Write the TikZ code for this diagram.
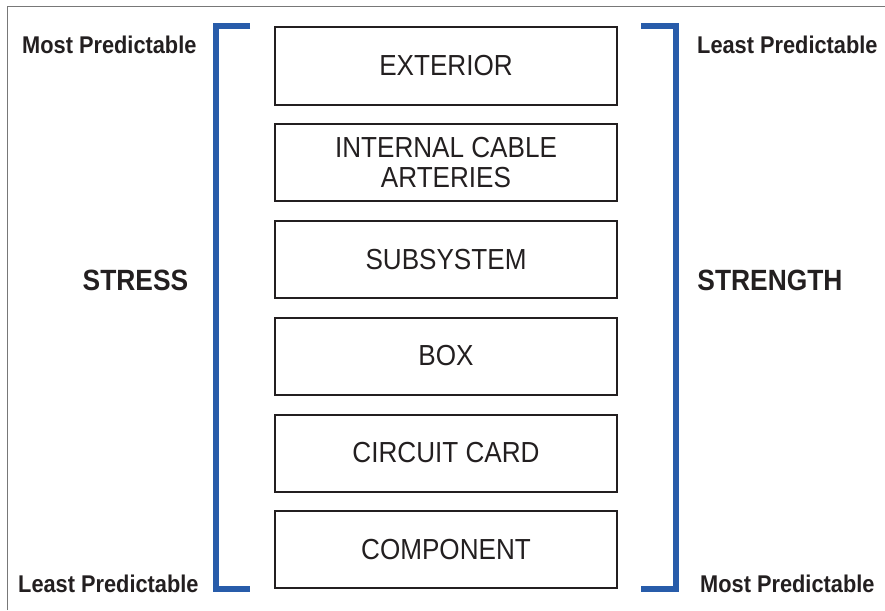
\documentclass[tikz,border=0pt]{standalone}
\usepackage{fontspec}
\setmainfont{Liberation Sans}[FakeStretch=0.9]
\definecolor{bracketblue}{RGB}{40,92,170}
\definecolor{ink}{RGB}{35,31,32}
\definecolor{framegray}{RGB}{120,120,120}
\begin{document}
\begin{tikzpicture}[x=1pt,y=-1pt,
  level/.style={draw=ink,line width=2pt,minimum width=342pt,minimum height=77pt,
    inner sep=0pt,text=ink,align=center,font=\fontsize{29}{29.5}\selectfont},
  side/.style={text=ink,inner sep=0pt,font=\bfseries\fontsize{24.2}{26}\selectfont},
  big/.style={text=ink,inner sep=0pt,font=\bfseries\fontsize{29.3}{30}\selectfont},
  bracket/.style={draw=bracketblue,line width=6pt}]
\useasboundingbox (0,0) rectangle (885,610);
% partial frame (top and left edges)
\draw[framegray,line width=1pt] (7,610) -- (7,7) -- (885,7);

% the six levels
\node[level] (ext)  at (446,66)  {EXTERIOR};
\node[level] (ica)  at (446,162.5) {INTERNAL CABLE\\ARTERIES};
\node[level] (sub)  at (446,259.5) {SUBSYSTEM};
\node[level] (box)  at (446,356) {BOX};
\node[level] (cc)   at (446,453) {CIRCUIT CARD};
\node[level] (comp) at (446,549.5) {COMPONENT};

% brackets
\coordinate (lt) at (250,26);
\coordinate (lb) at (250,588.5);
\coordinate (rt) at (641,26);
\coordinate (rb) at (641,588.5);
\draw[bracket] (lt) -- (216,26) -- (216,588.5) -- (lb);
\draw[bracket] (rt) -- (675.5,26) -- (675.5,588.5) -- (rb);

% side labels
\node[side,anchor=base west] (mpl) at (22,53) {Most Predictable};
\node[side,anchor=base west] (lpr) at (697,53) {Least Predictable};
\node[side,anchor=base west] (lpl) at (18,592) {Least Predictable};
\node[side,anchor=base west] (mpr) at (700,592) {Most Predictable};
\node[big,anchor=base] (stress) at (135.5,290) {STRESS};
\node[big,anchor=base] (strength) at (770,290) {STRENGTH};
\end{tikzpicture}
\end{document}
